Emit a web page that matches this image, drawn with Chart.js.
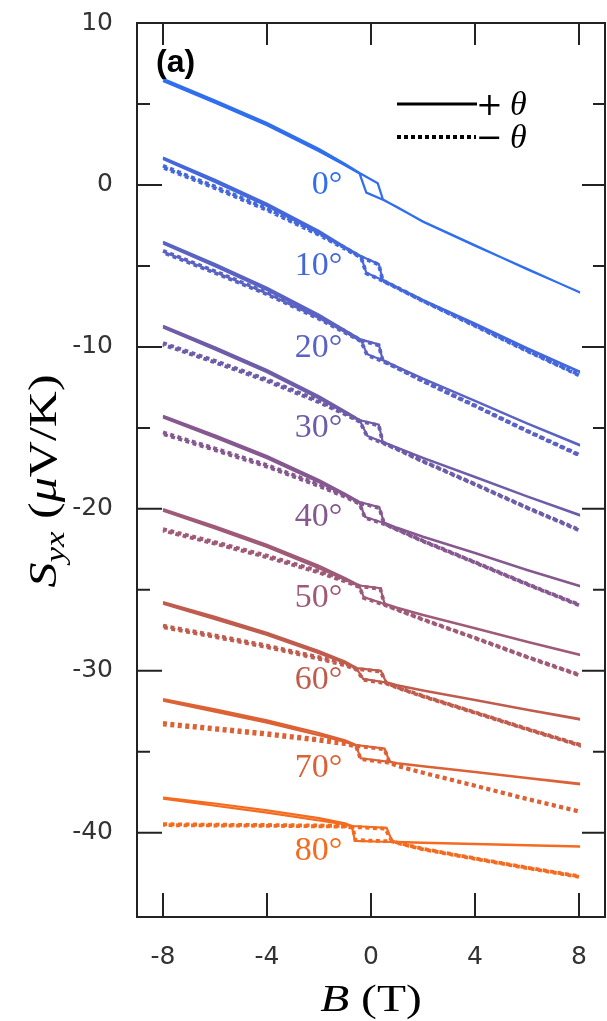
<!DOCTYPE html>
<html>
  <head>
    <title>Syx vs B</title>
    <style>
      body { margin: 0; background: #fff; }
    </style>
  </head>
  <body>
    <script src="https://cdn.jsdelivr.net/npm/chart.js"></script>

    <canvas id="myChart" width="607" height="1021"></canvas>

    <script>
      // tilt angles and the colour used for each one
      const angles = [0, 10, 20, 30, 40, 50, 60, 70, 80];
      const angleColors = ['#2f6fee', '#4468dc', '#5a62c4', '#6e5ca8', '#85588f', '#9e5a77', '#bf5c4e', '#dc6235', '#f46b1f'];

      // where the angle labels sit (B in T, S in uV/K)
      const labelB = -1.1;
      const labelS = [0, -5, -10.1, -15, -20.5, -25.5, -30.6, -36, -41.1];

      // axis ticks
      const xTicks = [-8, -4, 0, 4, 8];
      const yTicks = [10, 0, -10, -20, -30, -40];
      const yMinor = [5, -5, -15, -25, -35];

      // +theta sweeps (solid), [B, Syx]
      const p0Up = [[-8,6.55],[-6,5.21],[-4,3.82],[-2,2.22],[-1,1.3],[-0.44,0.74],[0.26,0.1],[0.46,-0.9],[1,-1.38],[2,-2.25],[4,-3.73],[6,-5.2],[8,-6.6]];
      const p0Down = [[8,-6.62],[6,-5.18],[4,-3.76],[2,-2.27],[1,-1.36],[0.46,-0.92],[-0.18,-0.47],[-0.44,0.7],[-1,1.22],[-2,2.08],[-4,3.68],[-6,5.07],[-8,6.42]];
      const p10Up = [[-8,1.7],[-6,0.32],[-4,-1.16],[-2,-2.84],[-1,-3.82],[-0.38,-4.4],[0.3,-4.88],[0.45,-5.86],[1,-6.31],[2,-7.1],[4,-8.56],[6,-10.06],[8,-11.5]];
      const p10Down = [[8,-11.54],[6,-10.1],[4,-8.6],[2,-7.12],[1,-6.33],[0.45,-5.88],[-0.18,-5.42],[-0.38,-4.44],[-1,-3.9],[-2,-2.98],[-4,-1.3],[-6,0.18],[-8,1.6]];
      const p20Up = [[-8,-3.51],[-6,-4.88],[-4,-6.34],[-2,-8.01],[-1,-8.97],[-0.38,-9.55],[0.3,-9.85],[0.45,-10.8],[1,-11.22],[2,-11.95],[4,-13.32],[6,-14.71],[8,-16.03]];
      const p20Down = [[8,-16.07],[6,-14.73],[4,-13.34],[2,-11.97],[1,-11.24],[0.45,-10.82],[-0.15,-10.45],[-0.38,-9.6],[-1,-9.07],[-2,-8.15],[-4,-6.48],[-6,-5.02],[-8,-3.61]];
      const p30Up = [[-8,-8.7],[-6,-10.02],[-4,-11.43],[-2,-13.04],[-1,-13.97],[-0.42,-14.53],[0.3,-14.8],[0.45,-15.85],[1,-16.21],[2,-16.84],[4,-18.02],[6,-19.22],[8,-20.35]];
      const p30Down = [[8,-20.39],[6,-19.24],[4,-18.04],[2,-16.86],[1,-16.23],[0.45,-15.87],[-0.14,-15.5],[-0.42,-14.58],[-1,-14.07],[-2,-13.18],[-4,-11.57],[-6,-10.16],[-8,-8.8]];
      const p40Up = [[-8,-14.25],[-6,-15.45],[-4,-16.74],[-2,-18.22],[-1,-19.06],[-0.44,-19.58],[0.32,-19.9],[0.5,-20.85],[1,-21.16],[2,-21.71],[4,-22.72],[6,-23.76],[8,-24.73]];
      const p40Down = [[8,-24.77],[6,-23.78],[4,-22.74],[2,-21.73],[1,-21.18],[0.5,-20.87],[-0.23,-20.5],[-0.44,-19.63],[-1,-19.16],[-2,-18.36],[-4,-16.88],[-6,-15.59],[-8,-14.35]];
      const p50Up = [[-8,-20.01],[-6,-21.07],[-4,-22.21],[-2,-23.52],[-1,-24.27],[-0.44,-24.73],[0.36,-24.9],[0.52,-25.85],[1,-26.1],[2,-26.54],[4,-27.36],[6,-28.2],[8,-28.98]];
      const p50Down = [[8,-29.02],[6,-28.22],[4,-27.38],[2,-26.56],[1,-26.12],[0.52,-25.87],[-0.28,-25.45],[-0.44,-24.78],[-1,-24.37],[-2,-23.66],[-4,-22.35],[-6,-21.21],[-8,-20.11]];
      const p60Up = [[-8,-25.75],[-6,-26.67],[-4,-27.65],[-2,-28.78],[-1,-29.43],[-0.55,-29.83],[0.38,-30.0],[0.58,-30.7],[1,-30.88],[2,-31.2],[4,-31.79],[6,-32.4],[8,-32.96]];
      const p60Down = [[8,-33.0],[6,-32.42],[4,-31.81],[2,-31.22],[1,-30.9],[0.58,-30.72],[-0.3,-30.5],[-0.55,-29.88],[-1,-29.53],[-2,-28.92],[-4,-27.79],[-6,-26.81],[-8,-25.85]];
      const p70Up = [[-8,-31.75],[-6,-32.38],[-4,-33.06],[-2,-33.84],[-1,-34.29],[-0.57,-34.58],[0.52,-34.8],[0.71,-35.6],[1,-35.69],[2,-35.88],[4,-36.24],[6,-36.61],[8,-36.96]];
      const p70Down = [[8,-37.0],[6,-36.63],[4,-36.26],[2,-35.9],[1,-35.71],[0.71,-35.62],[-0.4,-35.4],[-0.57,-34.63],[-1,-34.39],[-2,-33.98],[-4,-33.2],[-6,-32.52],[-8,-31.85]];
      const p80Up = [[-8,-37.82],[-6,-38.19],[-4,-38.61],[-2,-39.1],[-1,-39.41],[-0.73,-39.58],[0.6,-39.7],[0.82,-40.55],[1,-40.56],[2,-40.6],[4,-40.68],[6,-40.76],[8,-40.83]];
      const p80Down = [[8,-40.85],[6,-40.78],[4,-40.7],[2,-40.62],[1,-40.58],[0.82,-40.57],[-0.62,-40.5],[-0.73,-39.62],[-1,-39.49],[-2,-39.24],[-4,-38.75],[-6,-38.33],[-8,-37.9]];

      // -theta sweeps (dotted), [B, Syx]
      const m10Up = [[-8,1.18],[-6,-0.1],[-4,-1.45],[-2,-3.0],[-1,-3.88],[-0.38,-4.45],[0.3,-4.92],[0.45,-5.9],[1,-6.33],[2,-7.15],[4,-8.66],[6,-10.21],[8,-11.71]];
      const m10Down = [[8,-11.75],[6,-10.25],[4,-8.7],[2,-7.17],[1,-6.36],[0.45,-5.92],[-0.18,-5.46],[-0.38,-4.48],[-1,-3.95],[-2,-3.08],[-4,-1.55],[-6,-0.2],[-8,1.08]];
      const m20Up = [[-8,-4.07],[-6,-5.33],[-4,-6.65],[-2,-8.17],[-1,-9.02],[-0.38,-9.6],[0.3,-9.9],[0.45,-10.85],[1,-11.27],[2,-12.09],[4,-13.62],[6,-15.17],[8,-16.65]];
      const m20Down = [[8,-16.69],[6,-15.2],[4,-13.65],[2,-12.12],[1,-11.3],[0.45,-10.88],[-0.15,-10.5],[-0.38,-9.65],[-1,-9.12],[-2,-8.27],[-4,-6.75],[-6,-5.43],[-8,-4.17]];
      const m30Up = [[-8,-9.76],[-6,-10.86],[-4,-12.01],[-2,-13.32],[-1,-14.06],[-0.42,-14.58],[0.3,-14.85],[0.45,-15.9],[1,-16.29],[2,-17.05],[4,-18.47],[6,-19.91],[8,-21.28]];
      const m30Down = [[8,-21.32],[6,-19.94],[4,-18.5],[2,-17.08],[1,-16.32],[0.45,-15.93],[-0.14,-15.55],[-0.42,-14.63],[-1,-14.16],[-2,-13.42],[-4,-12.11],[-6,-10.96],[-8,-9.86]];
      const m40Up = [[-8,-15.28],[-6,-16.27],[-4,-17.3],[-2,-18.49],[-1,-19.16],[-0.44,-19.63],[0.32,-19.95],[0.5,-20.9],[1,-21.26],[2,-21.97],[4,-23.29],[6,-24.63],[8,-25.91]];
      const m40Down = [[8,-25.95],[6,-24.66],[4,-23.32],[2,-22.0],[1,-21.29],[0.5,-20.93],[-0.23,-20.55],[-0.44,-19.68],[-1,-19.26],[-2,-18.59],[-4,-17.4],[-6,-16.37],[-8,-15.38]];
      const m50Up = [[-8,-21.25],[-6,-22.05],[-4,-22.89],[-2,-23.84],[-1,-24.38],[-0.44,-24.78],[0.36,-24.95],[0.52,-25.9],[1,-26.2],[2,-26.82],[4,-27.96],[6,-29.13],[8,-30.23]];
      const m50Down = [[8,-30.27],[6,-29.16],[4,-27.99],[2,-26.85],[1,-26.23],[0.52,-25.93],[-0.28,-25.5],[-0.44,-24.83],[-1,-24.48],[-2,-23.94],[-4,-22.99],[-6,-22.15],[-8,-21.35]];
      const m60Up = [[-8,-27.21],[-6,-27.81],[-4,-28.44],[-2,-29.16],[-1,-29.56],[-0.55,-29.88],[0.38,-30.05],[0.58,-30.75],[1,-31.01],[2,-31.55],[4,-32.56],[6,-33.58],[8,-34.55]];
      const m60Down = [[8,-34.59],[6,-33.61],[4,-32.59],[2,-31.58],[1,-31.04],[0.58,-30.78],[-0.3,-30.55],[-0.55,-29.93],[-1,-29.66],[-2,-29.26],[-4,-28.54],[-6,-27.91],[-8,-27.31]];
      const m70Up = [[-8,-33.22],[-6,-33.53],[-4,-33.85],[-2,-34.22],[-1,-34.43],[-0.57,-34.63],[0.52,-34.85],[0.71,-35.65],[1,-35.85],[2,-36.28],[4,-37.08],[6,-37.9],[8,-38.66]];
      const m70Down = [[8,-38.7],[6,-37.93],[4,-37.11],[2,-36.31],[1,-35.88],[0.71,-35.68],[-0.4,-35.45],[-0.57,-34.68],[-1,-34.53],[-2,-34.32],[-4,-33.95],[-6,-33.63],[-8,-33.32]];
      const m80Up = [[-8,-39.47],[-6,-39.5],[-4,-39.52],[-2,-39.55],[-1,-39.58],[-0.7,-39.64],[0.55,-39.75],[0.8,-40.5],[1,-40.6],[2,-40.99],[4,-41.58],[6,-42.15],[8,-42.68]];
      const m80Down = [[8,-42.72],[6,-42.18],[4,-41.61],[2,-41.02],[1,-40.63],[0.8,-40.53],[-0.6,-40.45],[-0.7,-39.68],[-1,-39.62],[-2,-39.6],[-4,-39.57],[-6,-39.55],[-8,-39.53]];

      const plusSweeps = [[p0Up, p0Down], [p10Up, p10Down], [p20Up, p20Down], [p30Up, p30Down], [p40Up, p40Down],
                          [p50Up, p50Down], [p60Up, p60Down], [p70Up, p70Down], [p80Up, p80Down]];
      const minusSweeps = [null, [m10Up, m10Down], [m20Up, m20Down], [m30Up, m30Down], [m40Up, m40Down],
                           [m50Up, m50Down], [m60Up, m60Down], [m70Up, m70Down], [m80Up, m80Down]];

      const serif = '"Liberation Serif", "DejaVu Serif", serif';
      const wideSerif = '"DejaVu Serif", serif';

      // one loop = up sweep followed by down sweep
      const toPoints = (sweeps) => sweeps[0].concat(sweeps[1]).map(p => ({x: p[0], y: p[1]}));

      const datasets = [];
      minusSweeps.forEach((s, i) => {
        if (!s) return;
        datasets.push({
          data: toPoints(s),
          borderColor: angleColors[i],
          borderWidth: 3.8,
          borderDash: [4, 3.5],
        });
      });
      plusSweeps.forEach((s, i) => {
        datasets.push({
          data: toPoints(s),
          borderColor: angleColors[i],
          borderWidth: 2.2,
        });
      });

      // write a row of text pieces with different fonts, centred on x,
      // stretched sideways by k (the reference type is wide)
      function drawRuns(ctx, runs, x, y, k) {
        let total = 0;
        runs.forEach(r => { ctx.font = r.font; r.w = ctx.measureText(r.t).width; total += r.w; });
        ctx.save();
        ctx.translate(x, y);
        ctx.scale(k, 1);
        let cx = -total / 2;
        runs.forEach(r => {
          ctx.font = r.font;
          ctx.fillText(r.t, cx, r.dy || 0);
          cx += r.w;
        });
        ctx.restore();
      }

      // box and inward ticks on all four sides
      const frameTicks = {
        id: 'frameTicks',
        afterDatasetsDraw(chart) {
          const {ctx, chartArea: a, scales: {x, y}} = chart;
          ctx.save();
          ctx.strokeStyle = '#222';
          ctx.lineWidth = 2;
          ctx.strokeRect(a.left, a.top, a.right - a.left, a.bottom - a.top);
          ctx.beginPath();
          xTicks.forEach(v => {
            const px = x.getPixelForValue(v);
            ctx.moveTo(px, a.bottom); ctx.lineTo(px, a.bottom - 24);
            ctx.moveTo(px, a.top); ctx.lineTo(px, a.top + 22);
          });
          yTicks.forEach(v => {
            const py = y.getPixelForValue(v);
            ctx.moveTo(a.left, py); ctx.lineTo(a.left + 25, py);
            ctx.moveTo(a.right, py); ctx.lineTo(a.right - 23, py);
          });
          yMinor.forEach(v => {
            const py = y.getPixelForValue(v);
            ctx.moveTo(a.left, py); ctx.lineTo(a.left + 13, py);
            ctx.moveTo(a.right, py); ctx.lineTo(a.right - 12, py);
          });
          ctx.stroke();
          ctx.restore();
        }
      };

      // angle labels, legend, panel letter and axis titles
      const annotations = {
        id: 'annotations',
        afterDraw(chart) {
          const {ctx, chartArea: a, scales: {x, y}} = chart;
          ctx.save();

          ctx.textAlign = 'right';
          ctx.textBaseline = 'middle';
          ctx.font = '34px ' + serif;
          angles.forEach((ang, i) => {
            ctx.fillStyle = angleColors[i];
            ctx.fillText(ang + '°', x.getPixelForValue(labelB), y.getPixelForValue(labelS[i]));
          });

          // legend
          ctx.strokeStyle = '#000';
          ctx.lineWidth = 3;
          ctx.beginPath();
          ctx.moveTo(a.left + 260, a.top + 81);
          ctx.lineTo(a.left + 340, a.top + 81);
          ctx.stroke();
          ctx.lineWidth = 4;
          ctx.setLineDash([4, 3]);
          ctx.beginPath();
          ctx.moveTo(a.left + 260, a.top + 114);
          ctx.lineTo(a.left + 339, a.top + 114);
          ctx.stroke();
          ctx.setLineDash([]);

          ctx.fillStyle = '#000';
          ctx.textAlign = 'left';
          ctx.textBaseline = 'alphabetic';
          ctx.font = '32px ' + wideSerif;
          ctx.fillText('+', a.left + 339, a.top + 92);
          ctx.fillText('\u2212', a.left + 339, a.top + 125);
          ctx.font = 'italic 34px ' + serif;
          ctx.fillText('θ', a.left + 373, a.top + 92);
          ctx.fillText('θ', a.left + 373, a.top + 125);

          // panel letter
          ctx.font = 'bold 32px "Liberation Sans", Arial, sans-serif';
          ctx.textBaseline = 'middle';
          ctx.fillText('(a)', a.left + 19, a.top + 40);

          // x title
          ctx.textBaseline = 'alphabetic';
          drawRuns(ctx, [
            {t: 'B', font: 'italic 38px ' + serif},
            {t: ' (T)', font: '38px ' + serif}
          ], x.getPixelForValue(0), 1011, 1.25);

          // y title, rotated
          ctx.translate(44, 481);
          ctx.rotate(-Math.PI / 2);
          drawRuns(ctx, [
            {t: 'S', font: 'italic 40px ' + serif},
            {t: 'yx', font: 'italic 28px ' + serif, dy: 8},
            {t: ' (', font: '40px ' + serif},
            {t: 'μ', font: 'italic 40px ' + serif},
            {t: 'V/K)', font: '40px ' + serif}
          ], 0, 12, 1.25);

          ctx.restore();
        }
      };

      // keep the plot box exactly where the reference has it
      function fixPadding(s) {
        s.paddingLeft = 0;
        s.paddingRight = 0;
        s.paddingTop = 0;
        s.paddingBottom = 0;
      }

      const ctx = document.getElementById('myChart').getContext('2d');
      const chart = new Chart(ctx, {
        type: 'scatter',
        data: { datasets: datasets },
        options: {
          responsive: false,
          animation: false,
          showLine: true,
          elements: {
            point: { radius: 0, hoverRadius: 0 },
            line: { tension: 0, fill: false }
          },
          layout: { padding: { top: 23, right: 2, left: 0, bottom: 0 } },
          plugins: {
            legend: { display: false },
            tooltip: { enabled: false }
          },
          scales: {
            x: {
              type: 'linear',
              min: -9,
              max: 9,
              grid: { display: false },
              border: { display: false },
              afterBuildTicks: (s) => { s.ticks = xTicks.map(v => ({value: v})); },
              afterFit: (s) => { s.height = 104; fixPadding(s); },
              ticks: {
                color: '#333',
                padding: 17,
                maxRotation: 0,
                font: { family: '"DejaVu Sans", sans-serif', size: 25 }
              }
            },
            y: {
              type: 'linear',
              min: -45.2,
              max: 10,
              grid: { display: false },
              border: { display: false },
              afterBuildTicks: (s) => { s.ticks = yTicks.map(v => ({value: v})); },
              afterFit: (s) => { s.width = 137; fixPadding(s); },
              ticks: {
                color: '#333',
                padding: 16,
                font: { family: '"DejaVu Sans", sans-serif', size: 25 }
              }
            }
          }
        },
        plugins: [frameTicks, annotations]
      });
    </script>
  </body>
</html>
